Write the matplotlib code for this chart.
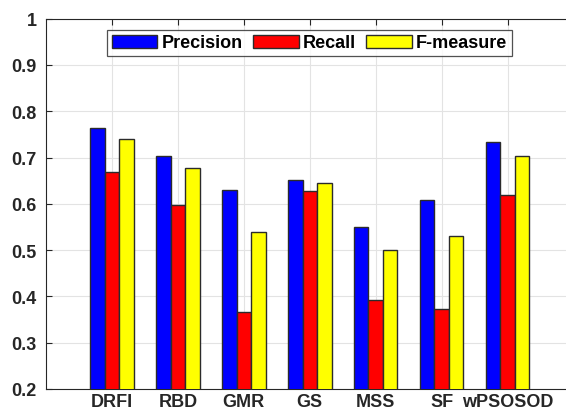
import numpy as np
import matplotlib
matplotlib.use("Agg")
import matplotlib.pyplot as plt

plt.rcParams['font.family'] = ['Liberation Sans', 'DejaVu Sans']
plt.rcParams['font.weight'] = 'bold'

methods = ['DRFI', 'RBD', 'GMR', 'GS', 'MSS', 'SF', 'wPSOSOD']
precision = [0.763, 0.704, 0.630, 0.652, 0.549, 0.608, 0.733]
recall = [0.668, 0.598, 0.366, 0.627, 0.392, 0.373, 0.619]
fmeasure = [0.739, 0.677, 0.540, 0.645, 0.501, 0.531, 0.703]

fig = plt.figure(figsize=(5.66, 4.10), dpi=100)
# axes run past the right border, so the right spine is cut off
ax = fig.add_axes([0.0813, 0.0488, 0.9320, 0.9032])

x = np.arange(1, len(methods) + 1)
w = 0.22
edge = '#2b2b2b'
ax.bar(x - w, precision, w, color='#0000ff', edgecolor=edge, linewidth=1.0, label='Precision', zorder=3)
ax.bar(x, recall, w, color='#ff0000', edgecolor=edge, linewidth=1.0, label='Recall', zorder=3)
ax.bar(x + w, fmeasure, w, color='#ffff00', edgecolor=edge, linewidth=1.0, label='F-measure', zorder=3)

ax.set_xlim(0, 8)
ax.set_ylim(0.2, 1.0)
ax.set_xticks(x)
ax.set_xticklabels(methods, fontsize=13, fontweight='bold')
ax.set_yticks(np.arange(0.2, 1.01, 0.1))
ax.set_yticklabels(['0.2', '0.3', '0.4', '0.5', '0.6', '0.7', '0.8', '0.9', '1'],
                   fontsize=13, fontweight='bold')
ax.tick_params(direction='in', top=True, right=True, length=4, width=0.8,
               colors='#262626')
ax.tick_params(axis='x', pad=3)
ax.tick_params(axis='y', pad=6.5)
ax.grid(True, color='#e3e3e3', linewidth=0.8, zorder=0)
ax.set_axisbelow(True)
for s in ax.spines.values():
    s.set_color('#262626')
    s.set_linewidth(0.8)

leg = ax.legend(loc='upper center', bbox_to_anchor=(0.4995, 0.9695), ncol=3,
                fontsize=13, frameon=True, fancybox=False, edgecolor='#262626',
                handlelength=2.53, handleheight=0.72, handletextpad=0.24,
                columnspacing=0.55, borderpad=0.25, borderaxespad=0)
leg.get_frame().set_linewidth(0.9)
for t in leg.get_texts():
    t.set_fontweight('bold')

fig.savefig('out.png', dpi=100)
